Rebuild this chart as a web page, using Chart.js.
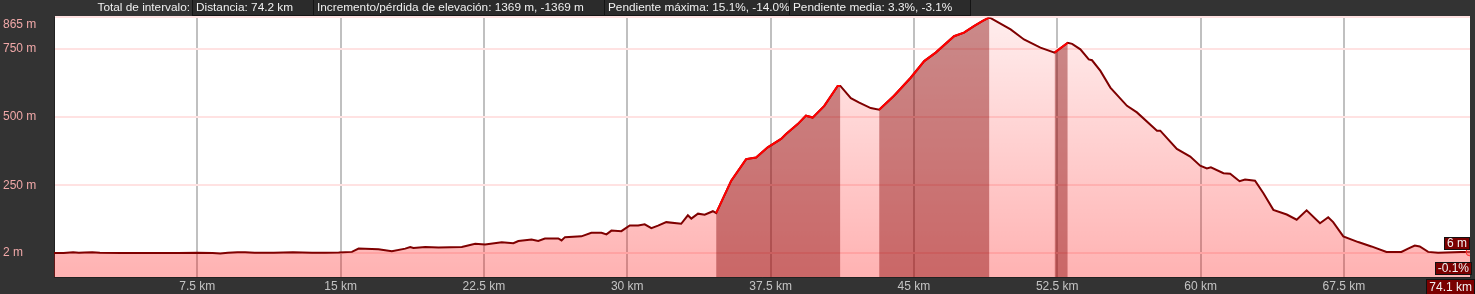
<!DOCTYPE html>
<html>
<head>
<meta charset="utf-8">
<script src="https://cdn.jsdelivr.net/npm/chart.js@4"></script>
<style>
body { margin:0; background:#333; font-family:"Liberation Sans", Arial, sans-serif; }
#wrap { position:relative; width:1475px; height:294px; overflow:hidden; }
canvas { position:absolute; left:0; top:0; }
.hd { position:absolute; top:0; height:16px; line-height:15px; font-size:11.8px; color:#f0f0f0; white-space:nowrap; box-sizing:border-box; }
.box { background:#2b2b2b; border:1px solid #141414; border-top:none; padding-left:3px; }
.tag { position:absolute; background:#7a0000; border:1px solid #111; color:#f2f2f2; font-size:12px; line-height:11px; padding:0 2px; white-space:nowrap; }
</style>
</head>
<body>
<div id="wrap">
  <canvas id="chart" width="1475" height="294"></canvas>
</div>
<script>
// distance (km) and elevation (m)
var dist = [0, 0.5, 1.0, 1.3, 1.6, 2.0, 2.4, 3.5, 5, 6.5, 7.5, 8.3, 8.7, 9.1, 9.6, 10.0, 10.5, 11.5, 12.5, 13.5,
  14.2, 14.9, 15.59, 15.94, 16.98, 17.68, 18.38, 18.64, 18.81, 19.43, 20.12, 21.34, 22.04, 22.56, 23.43, 24.04,
  24.30, 24.99, 25.34, 25.69, 26.39, 26.56, 26.74, 27.60, 28.12, 28.65, 28.91, 29.17, 29.69, 30.13, 30.57, 30.91,
  31.26, 31.61, 32.04, 32.82, 33.17, 33.35, 33.70, 34.05, 34.48, 34.65, 35.44, 36.22, 36.74, 37.35, 38.05, 38.31,
  38.92, 39.35, 39.70, 40.31, 41.01, 41.15, 41.70, 42.14, 42.74, 43.18, 43.96, 44.83, 45.54, 46.14, 47.10, 47.62,
  48.14, 48.60, 48.95, 50.06, 50.76, 51.62, 52.36, 53.05, 53.28, 53.71, 54.15, 54.32, 54.76, 55.28, 56.15, 56.67,
  57.72, 57.89, 58.76, 59.46, 59.98, 60.33, 60.54, 61.20, 61.55, 62.04, 62.33, 62.85, 63.29, 63.81, 64.51, 65.03,
  65.55, 66.25, 66.68, 66.94, 67.47, 68.25, 68.94, 69.73, 70.51, 70.86, 71.21, 71.47, 71.91, 72.43, 73.64, 74.1];
var elev = [2, 2, 5, 3, 4, 5, 3, 2, 2, 2, 3, 2, 0, 3, 5, 5, 3, 3, 5, 3,
  3, 3.5, 6, 18, 16, 8, 18, 24, 20, 24, 22, 24, 36, 33, 41, 38,
  46, 51, 46, 55, 55, 48, 60, 63, 76, 76, 70, 84, 82, 103, 103, 107,
  93, 102, 115, 109, 140, 128, 146, 142, 155, 148, 267, 346, 352, 389, 420, 438,
  474, 505, 498, 541, 614, 614, 569, 553, 533, 527, 578, 644, 705, 736, 796, 809,
  833, 852, 865, 821, 784, 754, 736, 772, 768, 748, 711, 708, 669, 608, 541, 517,
  450, 450, 383, 355, 322, 312, 316, 294, 292, 265, 271, 267, 221, 160, 143, 124,
  158, 111, 133, 115, 63, 42, 26, 6, 6, 18, 29, 26, 6, 3, 6, 6];

// climbing stretches inside the selected interval (km)
var bandFrom = [34.65, 43.18, 52.36];
var bandTo = [41.15, 48.95, 53.05];

var xTicks = [7.5, 15, 22.5, 30, 37.5, 45, 52.5, 60, 67.5];
var yTicks = [2, 250, 500, 750, 865];
var xMax = 74.1;
var yMin = -86, yMax = 865;

var summaryLabel = 'Total de intervalo:';
var summaryItems = ['Distancia: 74.2 km', 'Incremento/pérdida de elevación: 1369 m, -1369 m',
  'Pendiente máxima: 15.1%, -14.0%', 'Pendiente media: 3.3%, -3.1%'];
var endGrade = '-0.1%';

// header
var wrap = document.getElementById('wrap');
var edges = [192, 313, 604, 789, 970];
var lab = document.createElement('div');
lab.className = 'hd';
lab.style.left = '0px';
lab.style.width = '190px';
lab.style.textAlign = 'right';
lab.textContent = summaryLabel;
wrap.appendChild(lab);
for (var i = 0; i < summaryItems.length; i++) {
  var b = document.createElement('div');
  b.className = 'hd box';
  b.style.left = edges[i] + 'px';
  b.style.width = (edges[i + 1] - edges[i] + 1) + 'px';
  b.textContent = summaryItems[i];
  wrap.appendChild(b);
}

function addTag(text, right, top, lh) {
  var t = document.createElement('div');
  t.className = 'tag';
  t.style.right = right + 'px';
  t.style.top = top + 'px';
  if (lh) t.style.lineHeight = lh + 'px';
  t.textContent = text;
  wrap.appendChild(t);
}
addTag(elev[elev.length - 1] + ' m', 5, 237);
addTag(endGrade, 3, 262);
addTag(dist[dist.length - 1] + ' km', 0, 279, 14);

var points = [];
for (var i = 0; i < dist.length; i++) points.push({x: dist[i], y: elev[i]});

var datasets = [{
  data: points,
  borderColor: '#7f0000',
  borderWidth: 2,
  fill: 'start',
  backgroundColor: function (ctx) {
    var a = ctx.chart.chartArea;
    if (!a) return 'rgba(255,0,0,0.2)';
    var g = ctx.chart.ctx.createLinearGradient(0, a.top, 0, a.bottom);
    g.addColorStop(0, 'rgba(255,0,0,0.07)');
    g.addColorStop(1, 'rgba(255,0,0,0.30)');
    return g;
  },
  pointRadius: function (ctx) { return ctx.dataIndex === dist.length - 1 ? 4 : 0; },
  pointBorderColor: '#ff3030',
  pointBackgroundColor: 'rgba(255,120,120,0.5)',
  pointBorderWidth: 1,
  order: 2
}];
for (var k = 0; k < bandFrom.length; k++) {
  var seg = points.filter(function (p) { return p.x >= bandFrom[k] && p.x <= bandTo[k]; });
  datasets.push({
    data: seg,
    borderColor: '#ff0000',
    borderWidth: 2,
    fill: 'start',
    backgroundColor: 'rgba(128,0,0,0.42)',
    pointRadius: 0,
    order: 1
  });
}

var plotBg = {
  id: 'plotBg',
  beforeDraw: function (chart) {
    var a = chart.chartArea;
    chart.ctx.save();
    chart.ctx.fillStyle = '#ffffff';
    chart.ctx.fillRect(a.left, a.top, a.right - a.left, a.bottom - a.top);
    chart.ctx.restore();
  }
};

var font = {family: '"Liberation Sans", Arial, sans-serif', size: 12};

var chart = new Chart(document.getElementById('chart').getContext('2d'), {
  type: 'line',
  data: {datasets: datasets},
  options: {
    responsive: false,
    animation: false,
    layout: {padding: {left: 3, top: 17, right: 2, bottom: 0}},
    elements: {line: {tension: 0}},
    plugins: {legend: {display: false}, tooltip: {enabled: false}},
    scales: {
      x: {
        type: 'linear',
        min: 0,
        max: xMax,
        afterBuildTicks: function (s) { s.ticks = xTicks.map(function (v) { return {value: v}; }); },
        afterFit: function (s) { s.height = 17; },
        grid: {color: '#c0c0c0', lineWidth: 2, drawTicks: false},
        border: {color: '#222', width: 1},
        ticks: {color: '#c4c4c4', font: font, padding: 2, maxRotation: 0,
          callback: function (v) { return v + ' km'; }}
      },
      y: {
        min: yMin,
        max: yMax,
        afterBuildTicks: function (s) { s.ticks = yTicks.map(function (v) { return {value: v}; }); },
        afterFit: function (s) { s.width = 51; },
        grid: {color: '#ffe2e2', lineWidth: 2, drawTicks: false},
        border: {color: '#222', width: 1},
        ticks: {color: '#f0a8a8', font: font, crossAlign: 'far',
          callback: function (v) { return v === yMax ? ['', v + ' m'] : v + ' m'; }}
      }
    }
  },
  plugins: [plotBg]
});
</script>
</body>
</html>
